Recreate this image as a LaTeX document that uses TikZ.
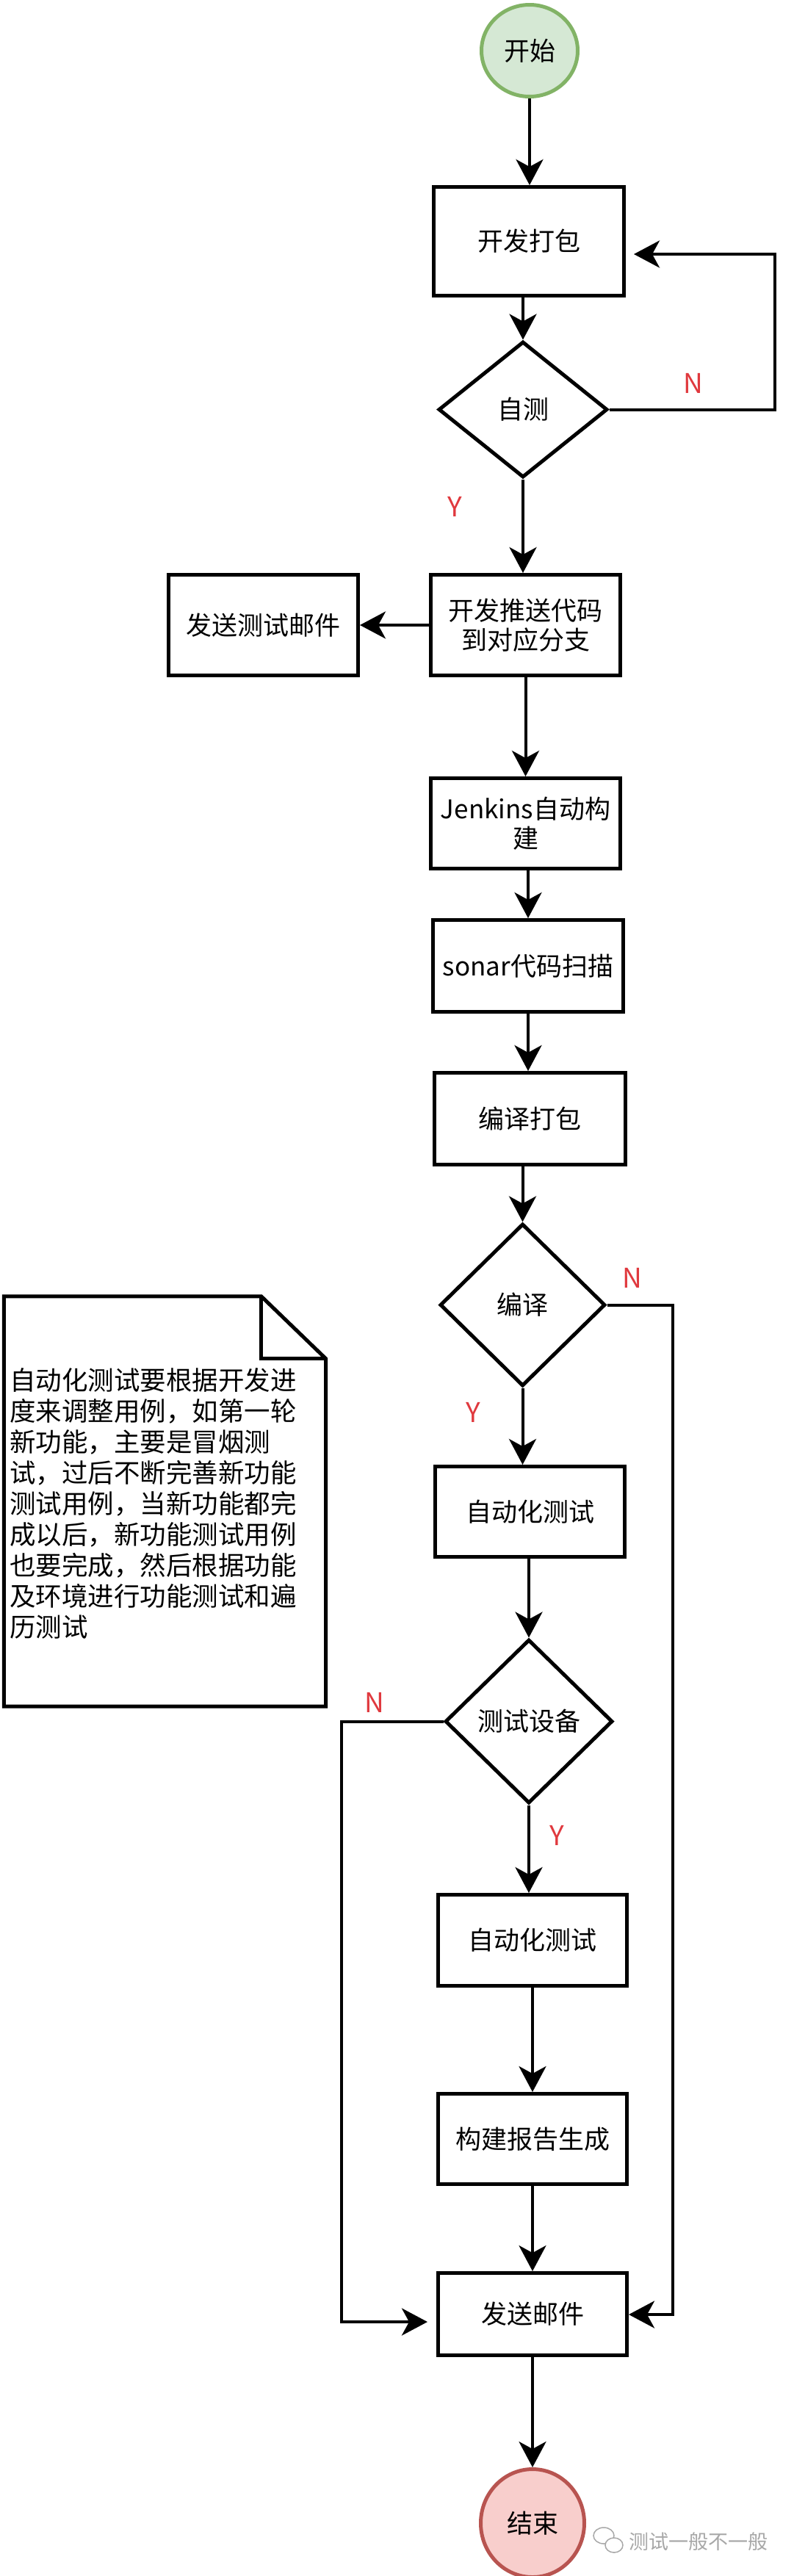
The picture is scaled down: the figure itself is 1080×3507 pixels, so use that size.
\documentclass[tikz,border=0pt]{standalone}
\usepackage{fontspec}
\setmainfont{Noto Sans CJK SC}
\usetikzlibrary{arrows.meta,shapes.geometric}
\definecolor{startfill}{HTML}{D5E8D4}
\definecolor{startline}{HTML}{82B366}
\definecolor{endfill}{HTML}{F8CECC}
\definecolor{endline}{HTML}{B85450}
\definecolor{lblred}{HTML}{E0393E}
\definecolor{wmgray}{HTML}{A8A8A8}
\tikzset{
  box/.style={draw, line width=5pt, rectangle, inner sep=0pt, align=center, font=\fontsize{35}{40}\selectfont},
  dia/.style={draw, line width=5pt, diamond, inner sep=0pt, align=center, font=\fontsize{35}{40}\selectfont},
  term/.style={draw, line width=5pt, ellipse, inner sep=0pt, font=\fontsize{35}{40}\selectfont},
  arr/.style={line width=4pt, -{Stealth[length=35pt,width=37pt,inset=10pt]}},
  lbl/.style={text=lblred, font=\fontsize{37}{40}\selectfont, inner sep=0pt},
}
\begin{document}
\begin{tikzpicture}[x=1pt,y=-1pt]
\fill[white] (0,0) rectangle (1080,3507);
\useasboundingbox (0,0) rectangle (1080,3507);

% terminals
\node[term, fill=startfill, draw=startline, minimum width=131pt, minimum height=125pt] (start) at (721,69) {开始};
\node[term, fill=endfill, draw=endline, minimum width=141pt, minimum height=147pt] (endc) at (725,3435) {结束};

% boxes
\node[box, minimum width=259pt, minimum height=148pt] (b1) at (720,328.5) {开发打包};
\node[box, minimum width=258pt, minimum height=137pt] (push) at (715.5,851) {开发推送代码\\到对应分支};
\node[box, minimum width=258pt, minimum height=137pt] (mail1) at (358.5,851) {发送测试邮件};
\node[box, minimum width=258pt, minimum height=123pt] (jenkins) at (715.5,1121) {Jenkins自动构\\建};
\node[box, minimum width=259pt, minimum height=125pt] (sonar) at (719,1315) {sonar代码扫描};
\node[box, minimum width=260pt, minimum height=125pt] (compile) at (721.5,1523) {编译打包};
\node[box, minimum width=258pt, minimum height=123pt] (auto1) at (721.5,2058) {自动化测试};
\node[box, minimum width=257pt, minimum height=124pt] (auto2) at (725,2641.5) {自动化测试};
\node[box, minimum width=257pt, minimum height=123pt] (report) at (725,2912) {构建报告生成};
\node[box, minimum width=257pt, minimum height=112pt] (mail2) at (725,3150.5) {发送邮件};

% diamonds
\node[dia, minimum width=230pt, minimum height=185pt] (d1) at (712,557.5) {自测};
\node[dia, minimum width=225pt, minimum height=221pt] (d2) at (711.5,1776.5) {编译};
\node[dia, minimum width=228pt, minimum height=223pt] (d3) at (720,2343.5) {测试设备};

% note
\node[inner sep=0pt, minimum width=438pt, minimum height=558pt] (note) at (224.5,2044) {};
\draw[line width=5pt] (note.north west) -- ([xshift=-88pt]note.north east) -- ([yshift=-85pt]note.north east) -- (note.south east) -- (note.south west) -- cycle;
\draw[line width=5pt] ([xshift=-88pt]note.north east) |- ([yshift=-85pt]note.north east);
\node[anchor=north west, align=left, inner sep=0pt, font=\fontsize{35.5}{42}\selectfont] (notetext) at (13,1862) {自动化测试要根据开发进\\度来调整用例，如第一轮\\新功能，主要是冒烟测\\试，过后不断完善新功能\\测试用例，当新功能都完\\成以后，新功能测试用例\\也要完成，然后根据功能\\及环境进行功能测试和遍\\历测试};

% labels
\node[lbl] (n1) at (944,522) {N};
\node[lbl] (y1) at (619,690) {Y};
\node[lbl] (n2) at (861,1740) {N};
\node[lbl] (y2) at (644,1923) {Y};
\node[lbl] (n3) at (510,2318) {N};
\node[lbl] (y3) at (758,2499) {Y};

% connectors
\draw[arr] (start.south) -- (start.south |- b1.north);
\draw[arr] (d1.north |- b1.south) -- (d1.north);
\coordinate (loopTR) at (1055,346);
\coordinate (loopEnd) at (863,346);
\draw[arr] (d1.east) -| (loopTR) -- (loopEnd);
\draw[arr] (d1.south) -- (d1.south |- push.north);
\draw[arr] (push.west) -- (mail1.east);
\draw[arr] (push.south) -- (jenkins.north);
\draw[arr] (sonar.north |- jenkins.south) -- (sonar.north);
\draw[arr] (sonar.south) -- (sonar.south |- compile.north);
\draw[arr] (d2.north |- compile.south) -- (d2.north);
\draw[arr] (d2.south) -- (d2.south |- auto1.north);
\coordinate (rN) at (916,3151);
\draw[arr] (d2.east) -| (rN) -- (rN -| mail2.east);
\draw[arr] (d3.north |- auto1.south) -- (d3.north);
\coordinate (lN) at (465,3161);
\coordinate (lEnd) at (582,3161);
\draw[arr] (d3.west) -| (lN) -- (lEnd);
\draw[arr] (d3.south) -- (d3.south |- auto2.north);
\draw[arr] (auto2.south) -- (report.north);
\draw[arr] (report.south) -- (mail2.north);
\draw[arr] (mail2.south) -- (endc.north);

% watermark
\node[draw=wmgray, line width=1.5pt, ellipse, minimum width=28pt, minimum height=22pt, inner sep=0pt] (wmicon1) at (822,3452) {};
\node[draw=wmgray, fill=white, line width=1.5pt, ellipse, minimum width=24pt, minimum height=20pt, inner sep=0pt] (wmicon2) at (836,3465) {};
\node[text=wmgray, font=\fontsize{27}{30}\selectfont, anchor=west, inner sep=0pt] (wm) at (856,3460) {测试一般不一般};
\end{tikzpicture}
\end{document}
